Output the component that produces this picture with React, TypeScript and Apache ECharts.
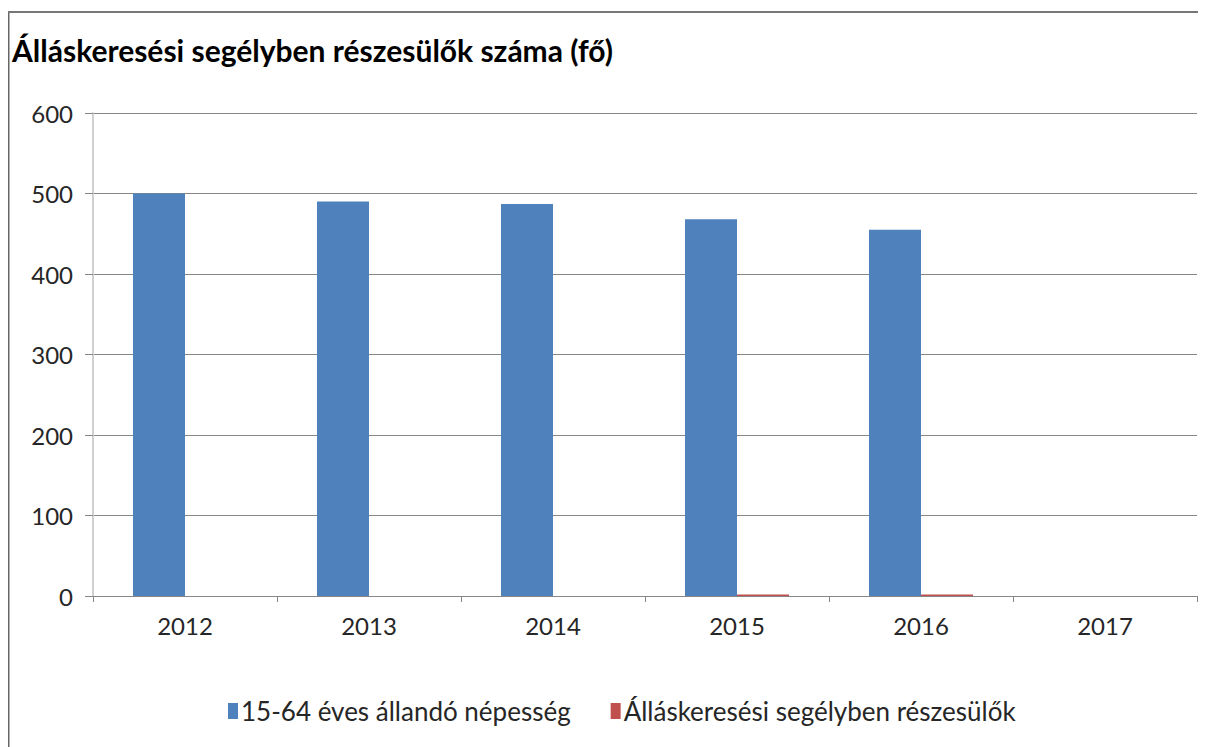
import React, { useEffect, useRef } from "react";
import * as echarts from "echarts";

const categories = ["2012", "2013", "2014", "2015", "2016", "2017"];
const population = [500, 490, 487, 468, 455, null];
const recipients = [0, 0, 0, 2, 2, null];
const seriesNames = ["15-64 éves állandó népesség", "Álláskeresési segélyben részesülők"];
const titleText = "Álláskeresési segélyben részesülők száma (fő)";

export default function App() {
  const ref = useRef<HTMLDivElement>(null);
  useEffect(() => {
    const chart = echarts.init(ref.current!, null, { renderer: "svg" });
    const font = "Lato, Open Sans, sans-serif";
    chart.setOption({
      animation: false,
      backgroundColor: "#ffffff",
      title: {
        text: titleText,
        left: -1,
        top: 22,
        textStyle: { fontFamily: font, fontSize: 30, fontWeight: "bold", color: "#000" },
      },
      graphic: [
        {
          type: "line",
          shape: { x1: 0.5, y1: 4, x2: 0.5, y2: 739 },
          style: { stroke: "#666", lineWidth: 2 },
        },
        {
          type: "line",
          shape: { x1: 0, y1: 4, x2: 1198, y2: 4 },
          style: { stroke: "#777", lineWidth: 2 },
        },
      ],
      legend: {
        bottom: 18,
        left: 215,
        itemWidth: 10,
        itemHeight: 16,
        itemGap: 40,
        icon: "rect",
        textStyle: { fontFamily: font, fontSize: 26, color: "#262626", padding: [0, 0, 0, -2] },
        data: seriesNames,
      },
      grid: { left: 85, right: 9, top: 105, bottom: 151, containLabel: false },
      xAxis: {
        type: "category",
        data: categories,
        axisLine: { lineStyle: { color: "#868686" } },
        axisTick: { show: true, length: 6, lineStyle: { color: "#868686" } },
        axisLabel: { fontFamily: font, fontSize: 24, color: "#262626", margin: 17 },
      },
      yAxis: {
        type: "value",
        min: 0,
        max: 600,
        interval: 100,
        axisLine: { show: true, lineStyle: { color: "#d0d0d0", width: 2 } },
        axisTick: { show: true, length: 8, lineStyle: { color: "#868686" } },
        axisLabel: { fontFamily: font, fontSize: 24, color: "#262626", margin: 20 },
        splitLine: { lineStyle: { color: "#868686" } },
      },
      series: [
        {
          name: seriesNames[0],
          type: "bar",
          data: population,
          barWidth: 52,
          barGap: "0%",
          itemStyle: { color: "#4F81BD" },
        },
        {
          name: seriesNames[1],
          type: "bar",
          data: recipients,
          barWidth: 52,
          itemStyle: { color: "#C0504D" },
        },
      ],
    });
    return () => chart.dispose();
  }, []);
  return <div ref={ref} style={{ width: 1198, height: 739 }} />;
}
